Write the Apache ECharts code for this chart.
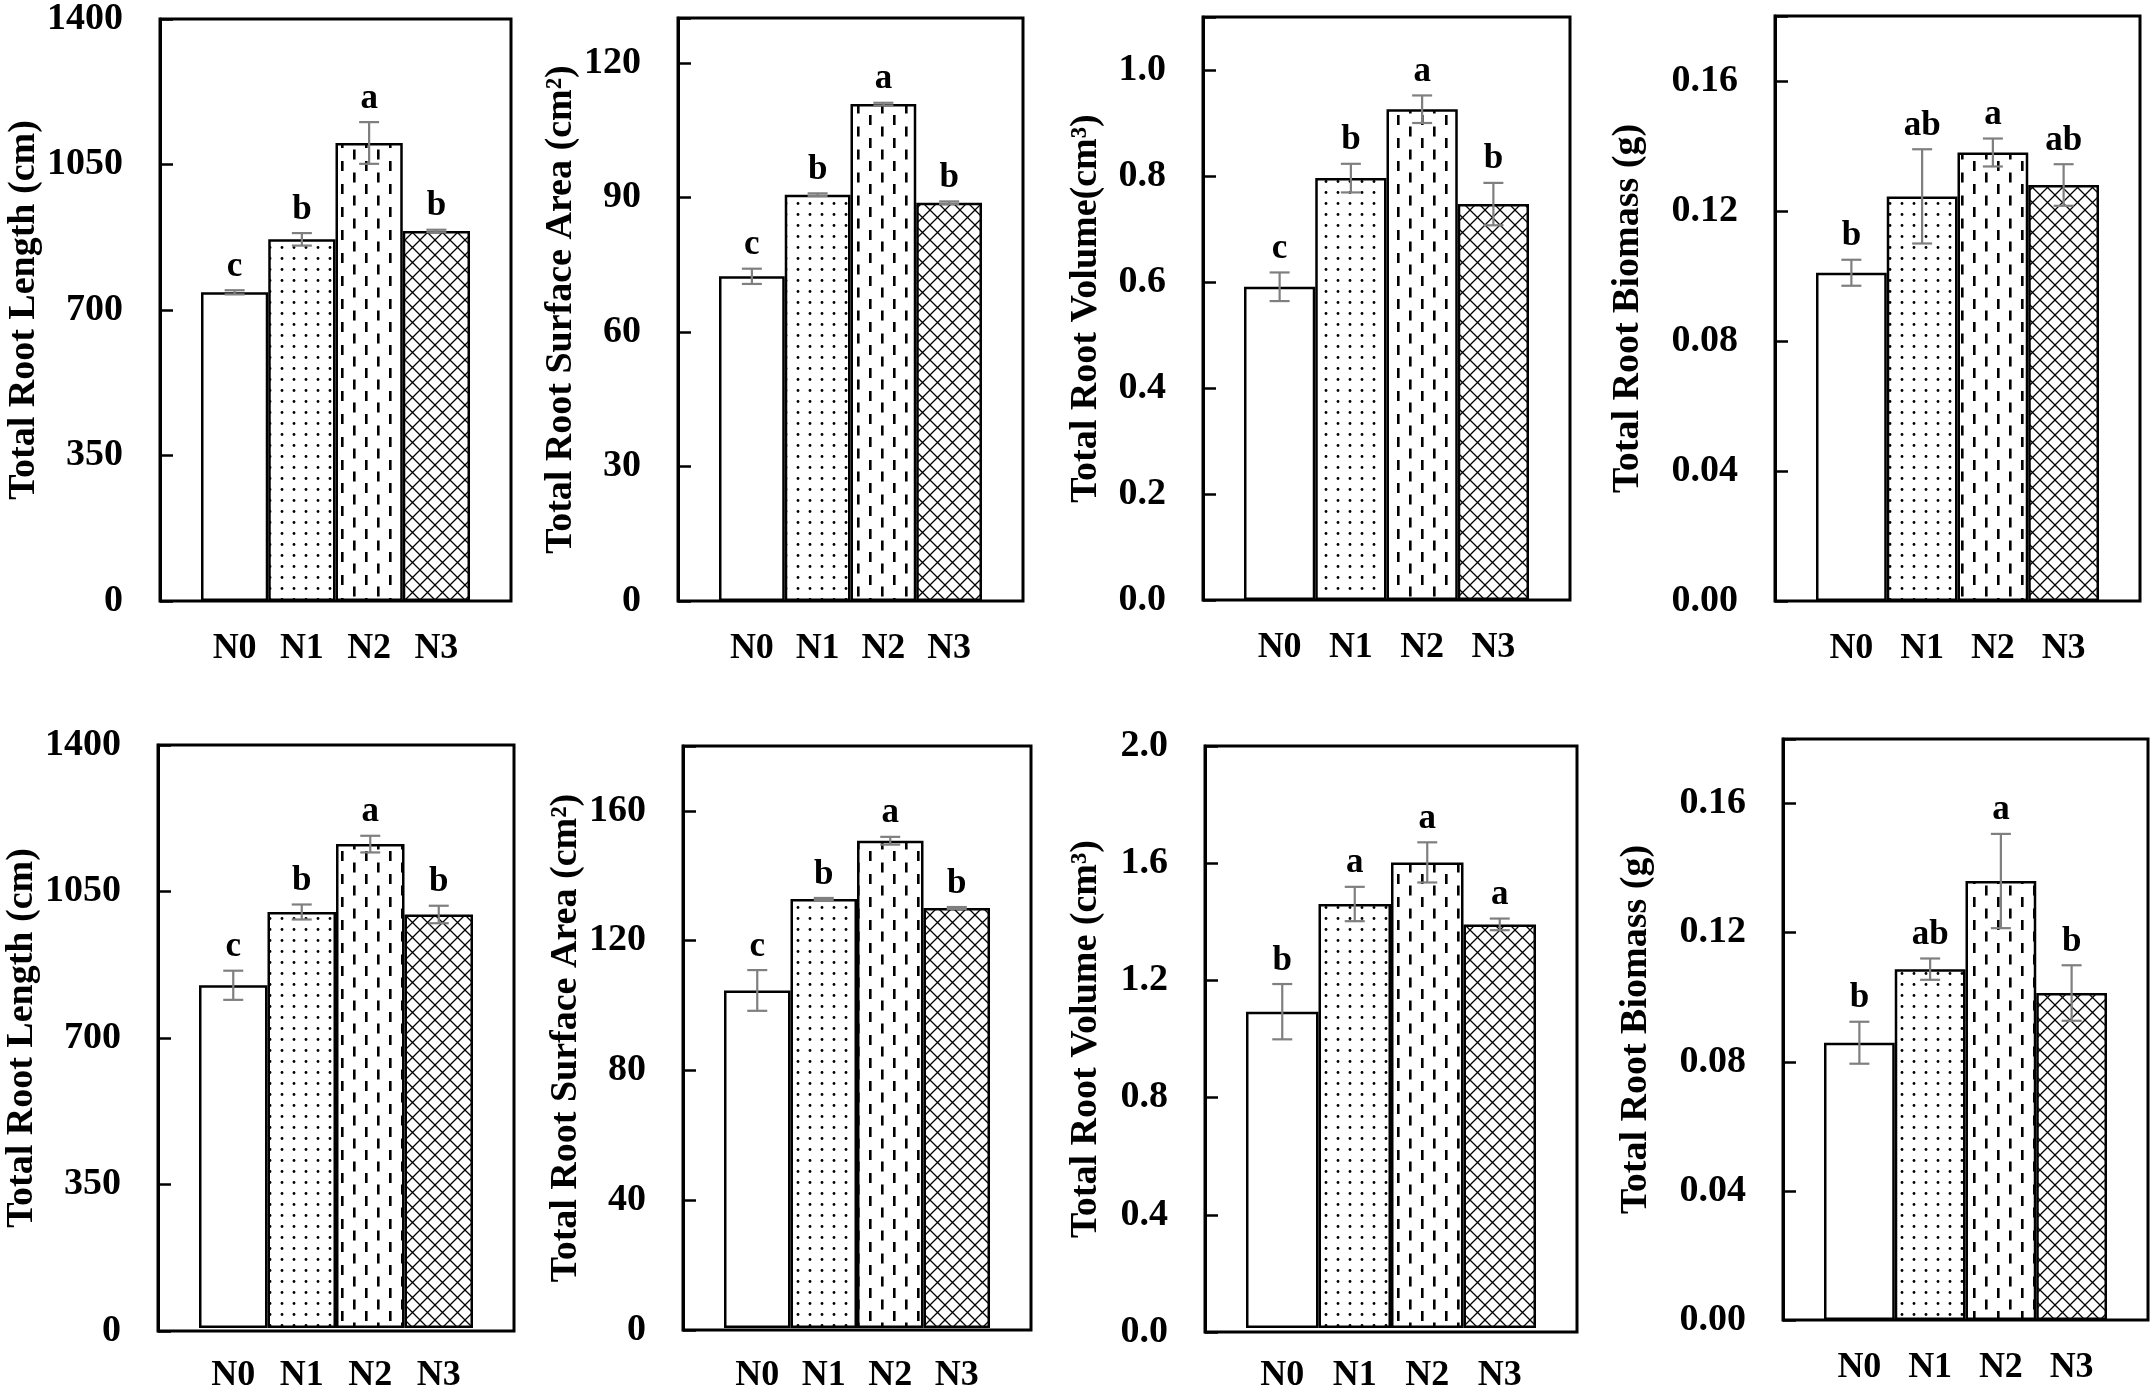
<!DOCTYPE html>
<html><head><meta charset="utf-8">
<script src="https://cdn.jsdelivr.net/npm/echarts@6/dist/echarts.min.js"></script>
<style>html,body{margin:0;padding:0;background:#fff}#c{width:2156px;height:1394px}</style>
</head><body><div id="c"></div>
<script>
// ---------------- data ----------------
const categories = ['N0', 'N1', 'N2', 'N3'];

const lengthTop = [740, 867, 1098, 887];
const lengthTopErr = [5, 15, 50, 3];
const lengthTopLetters = ['c', 'b', 'a', 'b'];

const surfaceTop = [72.4, 90.6, 110.8, 88.8];
const surfaceTopErr = [1.7, 0.3, 0.3, 0.3];
const surfaceTopLetters = ['c', 'b', 'a', 'b'];

const volumeTop = [0.591, 0.796, 0.926, 0.747];
const volumeTopErr = [0.027, 0.027, 0.026, 0.04];
const volumeTopLetters = ['c', 'b', 'a', 'b'];

const biomassTop = [0.101, 0.1245, 0.138, 0.128];
const biomassTopErr = [0.004, 0.0145, 0.0043, 0.0064];
const biomassTopLetters = ['b', 'ab', 'a', 'ab'];

const lengthBottom = [823, 999, 1162, 993];
const lengthBottomErr = [35, 18, 20, 21];
const lengthBottomLetters = ['c', 'b', 'a', 'b'];

const surfaceBottom = [104.4, 132.7, 150.7, 129.9];
const surfaceBottomErr = [6.3, 0.3, 1.2, 0.3];
const surfaceBottomLetters = ['c', 'b', 'a', 'b'];

const volumeBottom = [1.087, 1.457, 1.600, 1.387];
const volumeBottomErr = [0.095, 0.059, 0.069, 0.02];
const volumeBottomLetters = ['b', 'a', 'a', 'a'];

const biomassBottom = [0.0859, 0.1087, 0.136, 0.1013];
const biomassBottomErr = [0.0065, 0.0033, 0.0146, 0.0086];
const biomassBottomLetters = ['b', 'ab', 'a', 'b'];

const ticksLength = ['0', '350', '700', '1050', '1400'];
const ticksSurfaceTop = ['0', '30', '60', '90', '120'];
const ticksVolumeTop = ['0.0', '0.2', '0.4', '0.6', '0.8', '1.0'];
const ticksBiomass = ['0.00', '0.04', '0.08', '0.12', '0.16'];
const ticksSurfaceBottom = ['0', '40', '80', '120', '160'];
const ticksVolumeBottom = ['0.0', '0.4', '0.8', '1.2', '1.6', '2.0'];

// ---------------- layout ----------------
const FONT = '"Liberation Serif", "Times New Roman", serif';
const panels = [
  { title: 'Total Root Length (cm)', values: lengthTop, errs: lengthTopErr, letters: lengthTopLetters, max: 1400, interval: 350, ticks: ticksLength, box: [160, 17, 511, 601], nameGap: 112 },
  { title: 'Total Root Surface Area (cm²)', values: surfaceTop, errs: surfaceTopErr, letters: surfaceTopLetters, max: 130, interval: 30, ticks: ticksSurfaceTop, box: [678, 18, 1023, 601], nameGap: 96 },
  { title: 'Total Root Volume(cm³)', values: volumeTop, errs: volumeTopErr, letters: volumeTopLetters, max: 1.1, interval: 0.2, ticks: ticksVolumeTop, box: [1203, 17, 1570, 600], nameGap: 98 },
  { title: 'Total Root Biomass (g)', values: biomassTop, errs: biomassTopErr, letters: biomassTopLetters, max: 0.18, interval: 0.04, ticks: ticksBiomass, box: [1775, 16, 2140, 601], nameGap: 128 },
  { title: 'Total Root Length (cm)', values: lengthBottom, errs: lengthBottomErr, letters: lengthBottomLetters, max: 1400, interval: 350, ticks: ticksLength, box: [158, 745, 514, 1331], nameGap: 113 },
  { title: 'Total Root Surface Area (cm²)', values: surfaceBottom, errs: surfaceBottomErr, letters: surfaceBottomLetters, max: 180, interval: 40, ticks: ticksSurfaceBottom, box: [683, 746, 1031, 1330], nameGap: 96 },
  { title: 'Total Root Volume (cm³)', values: volumeBottom, errs: volumeBottomErr, letters: volumeBottomLetters, max: 2.0, interval: 0.4, ticks: ticksVolumeBottom, box: [1205, 746, 1577, 1332], nameGap: 100 },
  { title: 'Total Root Biomass (g)', values: biomassBottom, errs: biomassBottomErr, letters: biomassBottomLetters, max: 0.18, interval: 0.04, ticks: ticksBiomass, box: [1783, 739, 2148, 1320], nameGap: 128 }
];
const INSET = 41;

// ---------------- fill patterns ----------------
function canvasOf(w, h, draw) {
  const c = document.createElement('canvas');
  c.width = w; c.height = h;
  const ctx = c.getContext('2d');
  ctx.fillStyle = '#fff'; ctx.fillRect(0, 0, w, h);
  ctx.fillStyle = '#000'; ctx.strokeStyle = '#000';
  draw(ctx);
  return c;
}
const patWhite = '#ffffff';
const patDots = { image: canvasOf(12, 11, ctx => { ctx.beginPath(); ctx.arc(6, 5.5, 1.4, 0, Math.PI * 2); ctx.fill(); }), repeat: 'repeat' };
const patDashes = { image: canvasOf(24, 23, ctx => { ctx.fillRect(5, 0, 2.6, 10); ctx.fillRect(17, 11.5, 2.6, 10); }), repeat: 'repeat' };
const patCross = { image: canvasOf(15, 15, ctx => {
  ctx.lineWidth = 1.3;
  ctx.beginPath(); ctx.moveTo(-1, -1); ctx.lineTo(16, 16); ctx.moveTo(-1, 16); ctx.lineTo(16, -1); ctx.stroke();
}), repeat: 'repeat' };
const fills = [patWhite, patDots, patDashes, patCross];

// ---------------- option ----------------
const grid = [], xAxis = [], yAxis = [], series = [];
panels.forEach((p, k) => {
  const [l, t, r, b] = p.box;
  grid.push({ left: l, top: t, width: r - l, height: b - t, show: true, borderColor: '#000', borderWidth: 3, backgroundColor: 'transparent' });
  grid.push({ left: l + INSET, top: t, width: r - l - 2 * INSET, height: b - t, show: false });
  const gf = 2 * k, gb = 2 * k + 1;
  xAxis.push({ gridIndex: gf, type: 'value', show: false, min: 0, max: 1 });
  xAxis.push({
    gridIndex: gb, type: 'category', data: categories,
    axisLine: { show: false }, axisTick: { show: false },
    axisLabel: { interval: 0, margin: 30, fontSize: 36, fontWeight: 'bold', fontFamily: FONT, color: '#000' }
  });
  const ticks = p.ticks, iv = p.interval;
  yAxis.push({
    gridIndex: gf, type: 'value', min: 0, max: p.max, interval: iv,
    axisLine: { show: true, lineStyle: { color: '#000', width: 3 } },
    axisTick: { show: true, inside: true, length: 13, lineStyle: { color: '#000', width: 2.5 } },
    splitLine: { show: false },
    axisLabel: {
      margin: 37, fontSize: 38, fontWeight: 'bold', fontFamily: FONT, color: '#000',
      formatter: v => { const i = Math.round(v / iv); return (Math.abs(v - i * iv) < iv * 1e-6 && i < ticks.length) ? ticks[i] : ''; }
    },
    name: p.title, nameLocation: 'middle', nameGap: p.nameGap,
    nameTextStyle: { fontSize: 38, fontWeight: 'bold', fontFamily: FONT, color: '#000' }
  });
  yAxis.push({ gridIndex: gb, type: 'value', min: 0, max: p.max, show: false });

  series.push({
    type: 'bar', xAxisIndex: gb, yAxisIndex: gb, barWidth: '100%', silent: true,
    data: p.values.map((v, i) => ({ value: v, itemStyle: { color: fills[i], borderColor: '#000', borderWidth: 2.5 } }))
  });
  const letters = p.letters;
  series.push({
    type: 'custom', xAxisIndex: gb, yAxisIndex: gb, z: 5, clip: false, silent: true,
    data: p.values.map((v, i) => [i, v, p.errs[i]]),
    encode: { x: 0, y: 1 },
    renderItem: (params, api) => {
      const x = api.value(0), v = api.value(1), e = api.value(2);
      const top = api.coord([x, v + e]);
      const bot = api.coord([x, v - e]);
      const half = 10;
      const st = { stroke: '#7f7f7f', lineWidth: 2.2 };
      return {
        type: 'group', children: [
          { type: 'line', shape: { x1: top[0], y1: top[1], x2: bot[0], y2: bot[1] }, style: st },
          { type: 'line', shape: { x1: top[0] - half, y1: top[1], x2: top[0] + half, y2: top[1] }, style: st },
          { type: 'line', shape: { x1: bot[0] - half, y1: bot[1], x2: bot[0] + half, y2: bot[1] }, style: st },
          { type: 'text', x: top[0], y: top[1] - 6, style: { text: letters[params.dataIndex], align: 'center', verticalAlign: 'bottom', fontSize: 35, fontWeight: 'bold', fontFamily: FONT, fill: '#000' } }
        ]
      };
    }
  });
});

const chart = echarts.init(document.getElementById('c'), null, { renderer: 'canvas' });
chart.setOption({ animation: false, backgroundColor: '#fff', grid, xAxis, yAxis, series });
</script>
</body></html>
